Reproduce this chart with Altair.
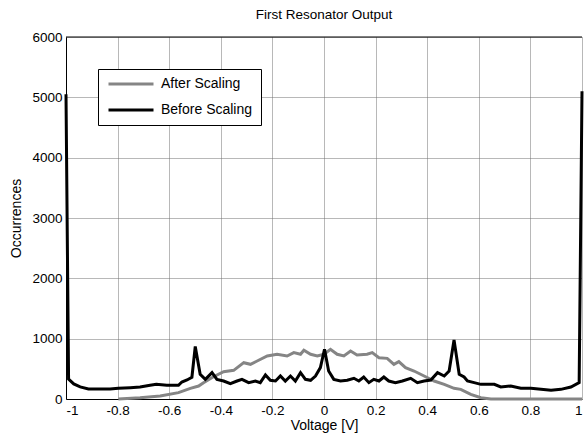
import altair as alt
import pandas as pd

# ---- data ----
before_x = [-1.0, -0.99, -0.97, -0.945, -0.913, -0.868, -0.829, -0.797, -0.751, -0.713,
            -0.674, -0.65, -0.609, -0.564, -0.551, -0.531, -0.512, -0.499, -0.48, -0.46,
            -0.434, -0.415, -0.389, -0.363, -0.337, -0.318, -0.292, -0.266, -0.247, -0.227,
            -0.208, -0.188, -0.169, -0.15, -0.13, -0.111, -0.091, -0.072, -0.052, -0.033,
            -0.014, 0.002, 0.018, 0.038, 0.064, 0.09, 0.116, 0.135, 0.154, 0.174,
            0.193, 0.213, 0.232, 0.251, 0.277, 0.304, 0.336, 0.362, 0.388, 0.414,
            0.44, 0.466, 0.485, 0.504, 0.524, 0.543, 0.556, 0.582, 0.608, 0.66,
            0.685, 0.724, 0.763, 0.802, 0.841, 0.88, 0.918, 0.957, 0.989, 1.0]
before_y = [5050, 330, 250, 200, 165, 165, 165, 177, 187, 198,
            227, 243, 227, 227, 282, 315, 360, 870, 409, 326,
            437, 326, 298, 254, 298, 326, 271, 298, 271, 398,
            310, 298, 381, 298, 381, 298, 437, 326, 310, 381,
            520, 824, 464, 326, 298, 310, 343, 298, 365, 271,
            326, 298, 365, 298, 271, 298, 343, 271, 298, 315,
            437, 381, 464, 978, 409, 365, 298, 271, 243, 243,
            199, 216, 177, 177, 160, 144, 160, 199, 271, 5100]

after_x = [-0.797, -0.713, -0.635, -0.564, -0.518, -0.486, -0.467, -0.43, -0.389, -0.35,
           -0.311, -0.285, -0.259, -0.22, -0.182, -0.143, -0.117, -0.091, -0.078, -0.052,
           -0.026, 0.0, 0.025, 0.051, 0.077, 0.103, 0.128, 0.167, 0.187, 0.213,
           0.245, 0.271, 0.29, 0.316, 0.349, 0.388, 0.427, 0.466, 0.504, 0.53,
           0.569, 0.608, 0.647, 0.8, 1.0]
after_y = [0, 22, 50, 105, 177, 215, 271, 365, 453, 475,
           602, 575, 630, 713, 741, 713, 768, 741, 807, 741,
           713, 741, 824, 741, 713, 796, 730, 741, 768, 685,
           674, 575, 619, 520, 464, 381, 298, 243, 177, 160,
           77, 22, 0, 0, 0]

series_names = ["After Scaling", "Before Scaling"]
series_colors = ["#858585", "#000000"]
x_ticks = [-1, -0.8, -0.6, -0.4, -0.2, 0, 0.2, 0.4, 0.6, 0.8, 1]
y_ticks = [0, 1000, 2000, 3000, 4000, 5000, 6000]
y_top = [6000]

df = pd.concat([
    pd.DataFrame({"v": after_x, "n": after_y, "s": series_names[0],
                  "o": list(range(len(after_x)))}),
    pd.DataFrame({"v": before_x, "n": before_y, "s": series_names[1],
                  "o": list(range(len(before_x)))}),
], ignore_index=True)

FONT = "Liberation Sans"

lines = alt.Chart(df).mark_line(strokeWidth=3).encode(
    x=alt.X("v:Q",
            scale=alt.Scale(domain=[-1, 1], nice=False, zero=False),
            axis=alt.Axis(values=x_ticks, title="Voltage [V]",
                          labelExpr="'' + datum.value",
                          titlePadding=2, labelPadding=4)),
    y=alt.Y("n:Q",
            scale=alt.Scale(domain=[0, 6000], nice=False),
            axis=alt.Axis(values=y_ticks, title="Occurrences", format="d",
                          titlePadding=8, labelPadding=4)),
    color=alt.Color("s:N",
                    scale=alt.Scale(domain=series_names, range=series_colors),
                    legend=alt.Legend(title=None, orient="none",
                                      legendX=32, legendY=32,
                                      symbolType="stroke", symbolSize=2025,
                                      symbolStrokeWidth=3, clipHeight=14,
                                      rowPadding=12, padding=8, symbolOffset=1,
                                      labelOffset=6, labelFontSize=14,
                                      labelFont=FONT, labelColor="black",
                                      labelExpr="datum.label + '  '",
                                      strokeColor="black", fillColor="white")),
    order="o:Q",
)

top_border = alt.Chart(pd.DataFrame({"t": y_top})).mark_rule(
    color="black", strokeWidth=1).encode(y="t:Q")

chart = alt.layer(top_border, lines).properties(
    width=516, height=362,
    title=alt.TitleParams("First Resonator Output", fontSize=13.5,
                          fontWeight="normal", font=FONT, color="black",
                          offset=9),
    autosize=alt.AutoSizeParams(type="none"),
    padding={"left": 66, "top": 37, "right": 2, "bottom": 35},
    background="white",
).configure_view(stroke=None).configure_axis(
    labelFont=FONT, titleFont=FONT, labelFontSize=13.5, titleFontSize=14,
    titleFontWeight="normal", labelColor="black", titleColor="black",
    domainColor="black", domainWidth=1, tickSize=0,
    gridColor="#707070", gridDash=[1, 1], gridWidth=1, gridOpacity=1,
)

chart.save("out.html", embed_options={"renderer": "svg", "actions": False})
